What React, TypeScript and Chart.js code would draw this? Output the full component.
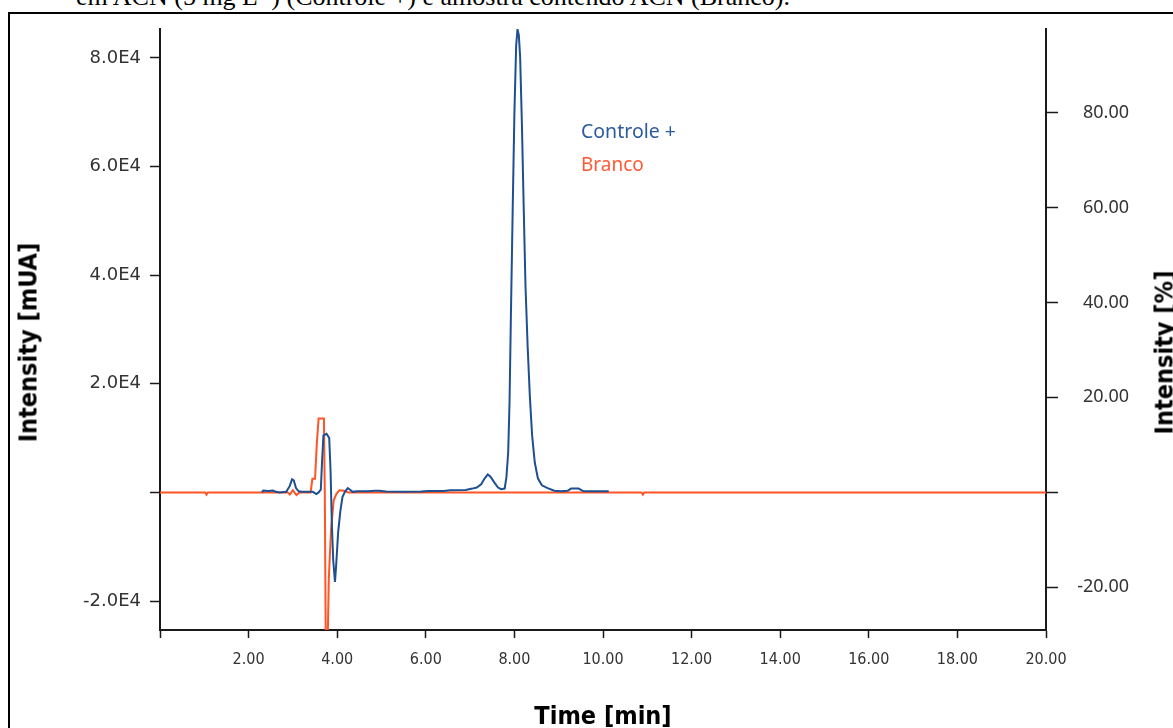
import { useEffect, useRef } from "react";
import { Chart, registerables } from "chart.js";

Chart.register(...registerables);

// Controle + (blue) — time [min] / intensity [mUA]
const controleTimes = [
  2.30, 2.33, 2.45, 2.55, 2.62, 2.70, 2.85, 2.93, 2.98, 3.02,
  3.07, 3.13, 3.20, 3.45, 3.53, 3.58, 3.63, 3.66, 3.69, 3.76,
  3.82, 3.85, 3.88, 3.91, 3.95, 3.98, 4.02, 4.07, 4.12, 4.18,
  4.24, 4.29, 4.35, 4.45, 4.70, 4.85, 4.95, 5.10, 5.50, 5.90,
  6.05, 6.40, 6.55, 6.90, 7.05, 7.15, 7.25, 7.33, 7.40, 7.46,
  7.55, 7.63, 7.70, 7.78, 7.82, 7.86, 7.89, 7.92, 7.96, 8.00,
  8.04, 8.07, 8.10, 8.13, 8.17, 8.21, 8.25, 8.30, 8.35, 8.40,
  8.46, 8.53, 8.62, 8.75, 8.90, 9.05, 9.20, 9.28, 9.45, 9.55,
  9.70, 10.13,
];
const controleValues = [
  0, 350, 250, 350, 100, 0, 100, 1200, 2400, 2200,
  800, 200, 100, 100, -300, 0, 500, 6000, 10500, 10800,
  10000, 4000, -6000, -12500, -16500, -13000, -7500, -3500, -800, 200,
  800, 500, 100, 200, 200, 300, 300, 150, 100, 150,
  250, 250, 400, 450, 700, 900, 1500, 2600, 3300, 2900,
  1800, 900, 600, 700, 2800, 7400, 16600, 32000, 51400, 69800,
  82300, 85300, 84200, 80100, 67600, 52500, 38100, 26700, 17500, 10500,
  5500, 2600, 1300, 800, 300, 200, 300, 700, 700, 250,
  200, 200,
];

// Branco (orange)
const brancoTimes = [
  0, 1.02, 1.05, 1.08, 2.88, 2.93, 3.00, 3.08, 3.15, 3.40,
  3.44, 3.50, 3.54, 3.58, 3.70, 3.72, 3.74, 3.79, 3.81, 3.86,
  3.92, 3.98, 4.05, 4.15, 4.25, 10.87, 10.90, 10.93, 20,
];
const brancoValues = [
  0, 0, -400, 0, 0, -400, 400, -500, 0, 0,
  2500, 2500, 9000, 13600, 13600, 0, -25400, -25400, -16000, -7000,
  -1500, -300, 400, 300, 0, 0, -400, 0, 0,
];

const xTicks = [0, 2, 4, 6, 8, 10, 12, 14, 16, 18, 20];
const leftTicks = [-20000, 0, 20000, 40000, 60000, 80000];
const rightTicks = [-20, 0, 20, 40, 60, 80];

const BLUE = "#1d4f91";
const ORANGE = "#ff5526";
const AXIS = "#1a1a1a";
const TICK_TEXT = "#333333";

export default function App() {
  const ref = useRef<HTMLCanvasElement | null>(null);

  useEffect(() => {
    if (!ref.current) return;
    const chart = new Chart(ref.current, {
      type: "line",
      data: {
        datasets: [
          {
            label: "Controle +",
            data: controleTimes.map((t, i) => ({ x: t, y: controleValues[i] })),
            borderColor: BLUE,
            borderWidth: 2,
            pointRadius: 0,
            tension: 0,
            yAxisID: "y",
            order: 0,
          },
          {
            label: "Branco",
            data: brancoTimes.map((t, i) => ({ x: t, y: brancoValues[i] })),
            borderColor: ORANGE,
            borderWidth: 2,
            pointRadius: 0,
            tension: 0,
            yAxisID: "y",
            order: 1,
          },
        ],
      },
      options: {
        animation: false,
        responsive: false,
        maintainAspectRatio: false,
        layout: { padding: { top: 29, right: 44, left: 0, bottom: 0 } },
        plugins: { legend: { display: false }, tooltip: { enabled: false } },
        scales: {
          x: {
            type: "linear",
            min: 0,
            max: 20,
            afterBuildTicks: (s: any) => {
              s.ticks = xTicks.map((v) => ({ value: v }));
            },
            afterFit: (s: any) => {
              s.height = 98;
            },
            grid: {
              display: true,
              drawOnChartArea: false,
              drawTicks: true,
              tickLength: 8,
              tickColor: AXIS,
              tickWidth: 1.5,
            },
            border: { display: true, color: AXIS, width: 2 },
            ticks: {
              autoSkip: false,
              maxRotation: 0,
              padding: 12,
              color: TICK_TEXT,
              font: { family: "'DejaVu Sans Condensed', 'DejaVu Sans'", size: 16 },
              callback: (v: any) => (Number(v) === 0 ? "" : Number(v).toFixed(2)),
            },
          },
          y: {
            type: "linear",
            position: "left",
            min: -25340,
            max: 85340,
            afterBuildTicks: (s: any) => {
              s.ticks = leftTicks.map((v) => ({ value: v }));
            },
            afterFit: (s: any) => {
              s.width = 160;
            },
            grid: {
              display: true,
              drawOnChartArea: false,
              drawTicks: true,
              tickLength: 10,
              tickColor: AXIS,
              tickWidth: 1.5,
            },
            border: { display: true, color: AXIS, width: 2 },
            ticks: {
              autoSkip: false,
              padding: 9,
              color: TICK_TEXT,
              font: { family: "'DejaVu Sans'", size: 18 },
              callback: (v: any) =>
                Number(v) === 0 ? "" : (Number(v) / 10000).toFixed(1) + "E4",
            },
          },
          y2: {
            type: "linear",
            position: "right",
            min: -29.07,
            max: 97.7,
            afterBuildTicks: (s: any) => {
              s.ticks = rightTicks.map((v) => ({ value: v }));
            },
            afterFit: (s: any) => {
              s.width = 83;
            },
            grid: {
              display: true,
              drawOnChartArea: false,
              drawTicks: true,
              tickLength: 12,
              tickColor: AXIS,
              tickWidth: 1.5,
            },
            border: { display: true, color: AXIS, width: 2 },
            ticks: {
              autoSkip: false,
              crossAlign: "far",
              padding: 10,
              color: TICK_TEXT,
              font: { family: "'Noto Sans'", size: 18 },
              callback: (v: any) => (Number(v) === 0 ? "" : Number(v).toFixed(2)),
            },
          },
        },
      },
    } as any);
    return () => chart.destroy();
  }, []);

  const titleFont = "'DejaVu Sans Condensed', 'DejaVu Sans', sans-serif";

  return (
    <div
      style={{
        position: "absolute",
        left: 0,
        top: 0,
        width: 1173,
        height: 728,
        overflow: "hidden",
        background: "#fff",
      }}
    >
      {/* caption from the document, cut off at top */}
      <div
        style={{
          position: "absolute",
          left: 76,
          top: -16,
          fontFamily: "'Liberation Serif', 'Times New Roman', serif",
          fontSize: 26,
          lineHeight: "26px",
          height: 26,
          whiteSpace: "nowrap",
          color: "#000",
        }}
      >
        em ACN (5 mg L
        <span style={{ fontSize: 16, position: "relative", top: -10 }}>-1</span>) (Controle +) e
        amostra contendo ACN (Branco).
      </div>
      {/* figure frame */}
      <div
        style={{
          position: "absolute",
          left: 8,
          top: 12,
          width: 1300,
          height: 900,
          border: "2px solid #000",
        }}
      />
      <canvas
        ref={ref}
        width={1173}
        height={728}
        style={{ position: "absolute", left: 0, top: 0, display: "block" }}
      />
      {/* left axis title */}
      <div
        style={{
          position: "absolute",
          left: 27.5 - 150,
          top: 342 - 12,
          width: 300,
          height: 25,
          lineHeight: "25px",
          textAlign: "center",
          transform: "rotate(-90deg)",
          transformOrigin: "50% 50%",
          fontFamily: titleFont,
          fontWeight: "bold",
          fontSize: 25,
          color: "#000",
          whiteSpace: "nowrap",
        }}
      >
        Intensity [mUA]
      </div>
      {/* right axis title */}
      <div
        style={{
          position: "absolute",
          left: 1164 - 150,
          top: 352 - 12,
          width: 300,
          height: 25,
          lineHeight: "25px",
          textAlign: "center",
          transform: "rotate(-90deg)",
          transformOrigin: "50% 50%",
          fontFamily: titleFont,
          fontWeight: "bold",
          fontSize: 25,
          color: "#000",
          whiteSpace: "nowrap",
        }}
      >
        Intensity [%]
      </div>
      {/* x axis title */}
      <div
        style={{
          position: "absolute",
          left: 603 - 150,
          top: 703,
          width: 300,
          height: 25,
          lineHeight: "25px",
          textAlign: "center",
          fontFamily: titleFont,
          fontWeight: "bold",
          fontSize: 25,
          color: "#000",
          whiteSpace: "nowrap",
        }}
      >
        Time [min]
      </div>
      {/* legend */}
      <div
        style={{
          position: "absolute",
          left: 581,
          top: 121,
          fontFamily: "'Noto Sans', sans-serif",
          fontSize: 19.5,
          lineHeight: "19px",
          color: "#2c5aa0",
          whiteSpace: "nowrap",
        }}
      >
        Controle +
      </div>
      <div
        style={{
          position: "absolute",
          left: 581,
          top: 155,
          fontFamily: "'Noto Sans', sans-serif",
          fontSize: 19,
          lineHeight: "19px",
          color: "#ff5a36",
          whiteSpace: "nowrap",
        }}
      >
        Branco
      </div>
    </div>
  );
}
